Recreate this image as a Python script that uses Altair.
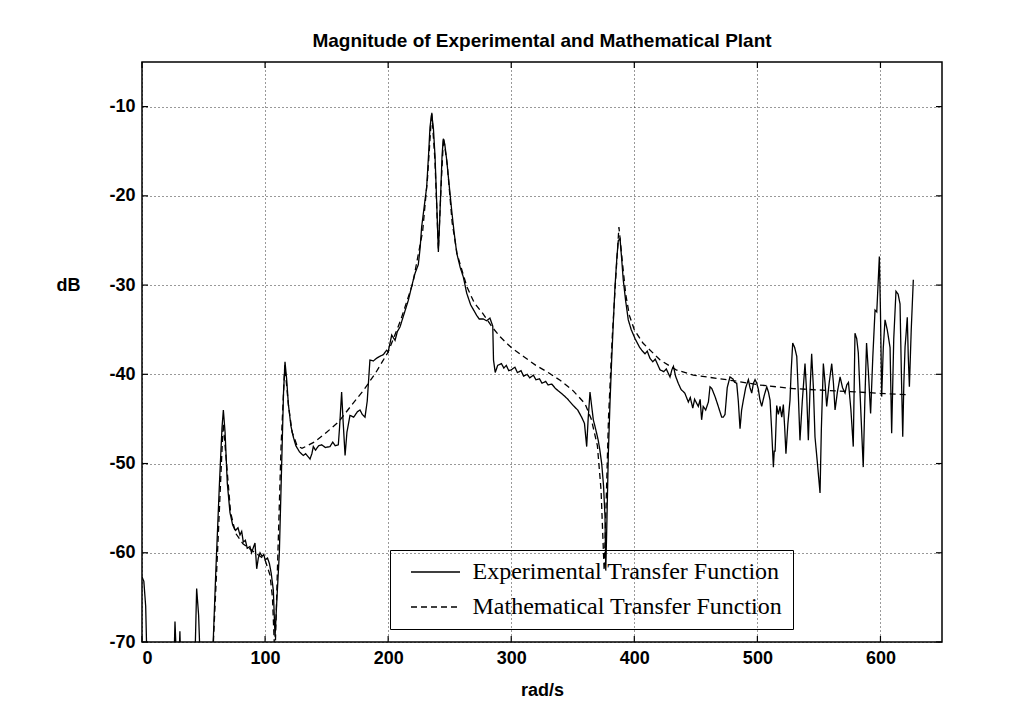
import altair as alt
import pandas as pd

# Experimental transfer function (rad/s, dB)
exp_points = [
    (0, -62.7), (1.5, -63.2), (3, -66), (4.5, -75),
    (25.5, -75), (26.8, -67.7), (28, -72), (30, -72), (30.8, -68.8), (32, -75),
    (42.5, -75), (44.4, -64.0), (46, -67), (48, -75),
    (56.5, -75), (60, -62), (63, -52), (65, -46), (66.1, -44.0), (67.5, -46.5),
    (69.3, -52.2), (71.5, -55.5), (73.7, -56.9), (76, -57.5), (78, -57.2),
    (79.6, -58.0), (81, -57.6), (82.3, -58.8), (84, -58.6), (85.5, -59.5),
    (87.7, -59.3), (89, -60), (90.5, -59.4), (91.8, -58.9), (93.2, -61.8),
    (94.5, -60.6), (95.9, -60.0), (97.5, -60.4), (99, -60.2), (100, -60.8),
    (102, -60.6), (103.5, -61.2), (105, -62.3), (106.7, -64.2), (108.1, -69.4),
    (109.5, -65.5), (111.6, -60.0), (113.5, -50), (115, -42), (116.2, -38.6),
    (117.5, -40.5), (118.9, -43.3), (121, -45.8), (122.9, -47.0), (125, -48),
    (128, -48.7), (131.1, -49.1), (133, -48.9), (136.5, -49.5), (138, -48.9),
    (139.2, -48.1), (141, -48.5), (143.5, -48.0), (146, -47.9), (149, -48.2),
    (152.7, -48.1), (155, -47.6), (157, -48.0), (159.5, -47.9), (160.5, -46),
    (162.2, -42.0), (163.3, -45), (165, -49.1), (166.5, -46.5), (169, -44.6),
    (172, -44.8), (175, -44.2), (177.1, -44.0), (179, -44.5), (181.2, -44.8),
    (183, -43), (185.2, -38.4), (188, -38.5), (190.6, -38.2), (193, -38.0),
    (196, -37.8), (198.8, -37.3), (200, -37.5), (202.9, -35.6), (205.6, -36.2),
    (207.5, -35.2), (209.6, -34.7), (213, -33.2), (216.4, -31.7), (219, -30.2),
    (221.8, -28.7), (224.5, -27.7), (226, -25.8), (227.2, -23.5), (229.3, -21.2),
    (231.3, -19.0), (233, -15), (234, -12.3), (235.4, -10.8), (236.8, -12.5),
    (238.1, -15.6), (239.5, -21), (240.8, -26.3), (241.8, -23), (242.7, -19.7),
    (243.8, -15.5), (244.8, -13.6), (246, -14.2), (247.6, -16.0), (249.5, -18.7),
    (251.6, -21.6), (253.5, -24), (255.7, -26.4), (258.5, -28), (261.1, -29.1),
    (263.8, -30.9), (267, -32.2), (271.9, -33.4), (274, -33.8), (277.3, -33.8),
    (280, -34.0), (282.7, -33.7), (285, -34.6), (285.6, -38.4), (287, -39.8),
    (289, -39.0), (292, -38.8), (294, -39.3), (296, -39.0), (298, -39.6),
    (300, -39.5), (303, -39.2), (305, -39.8), (308, -39.6), (310, -40.2),
    (313, -40.0), (315, -40.4), (318, -40.1), (320, -40.6), (323, -40.5),
    (325, -41.0), (328, -40.8), (330, -41.2), (333, -41.1), (336, -41.6),
    (339.6, -42.0), (343, -42.4), (346, -42.8), (350.4, -43.5), (354, -44.0),
    (357.2, -44.8), (359.5, -45.5), (361.3, -48.1), (362.5, -45), (364, -42.0),
    (365.3, -43.5), (366.7, -45.1), (368.7, -46.2), (370.7, -47.4), (372, -48.5),
    (373.5, -50.0), (375, -52.5), (376.2, -56), (376.8, -62), (377.5, -58),
    (378.9, -48.9), (380.3, -43), (381.6, -38.4), (383, -34), (384.3, -30.2),
    (385.8, -27), (387, -25.0), (388.4, -24.8), (389.7, -27), (391, -29.4),
    (393, -31.8), (395.1, -33.9), (397.5, -35), (400.6, -36.0), (404, -36.9),
    (406, -37.3), (408.7, -37.7), (410.5, -37.4), (412.7, -38.2), (415, -38.6),
    (417, -38.3), (420.9, -39.5), (424, -39.7), (426, -39.4), (429, -40.3),
    (430.5, -39.5), (431.8, -39.1), (433.5, -40.2), (435.7, -41.0), (438, -41.7),
    (441, -42.1), (443.9, -43.1), (445.5, -42.6), (447.5, -43.8), (449, -42.8),
    (452, -43.6), (453.5, -42.8), (454.7, -45.1), (456, -43.6), (458, -44),
    (460.2, -43.1), (461.5, -41.4), (463, -41.6), (465.6, -42.5), (468, -43.5),
    (471, -44.8), (472.3, -44.8), (473.7, -44.5), (475.5, -41.5), (477.7, -40.3),
    (480, -40.5), (481.5, -40.9), (483.2, -41.0), (484.5, -43), (485.9, -46.1),
    (487.2, -44), (488.6, -42.9), (490.5, -41.5), (492.7, -40.6), (494, -41.5),
    (495.4, -42.1), (496.8, -41), (498.1, -40.6), (499.5, -41), (500.8, -41.7),
    (502, -42.8), (503.5, -43.6), (505.5, -42.4), (507.6, -41.4), (509, -42),
    (510.3, -42.9), (511.5, -46), (513, -50.4), (513.7, -48.6), (514.4, -48.6),
    (515.7, -43.5), (517, -44.5), (518.4, -43.6), (519.8, -44.8), (521.1, -43.4),
    (522.2, -46), (523.2, -48.9), (524.8, -45.5), (526.5, -42.9), (527.5, -39.5),
    (528.7, -36.5), (530.3, -37), (532.0, -38.0), (533.2, -42), (534.6, -47.4),
    (536.5, -43), (538.7, -38.8), (540, -42), (541.4, -47.4), (542.7, -42),
    (544.1, -37.7), (545.5, -41.5), (546.8, -47.0), (548.8, -50), (550.9, -53.3),
    (552, -46), (553.6, -38.8), (555, -41), (556.3, -43.6), (558.3, -41),
    (560.4, -38.8), (561.8, -41), (563.1, -44.0), (565, -42), (567.2, -40.3),
    (569.2, -41.5), (571.2, -42.1), (572.6, -41.2), (574.0, -40.9), (576, -44),
    (577.9, -48.1), (579.3, -35.4), (580.7, -36), (582, -37.6), (584, -44),
    (586, -50.4), (587.3, -43), (588.7, -36.5), (590.3, -40), (592, -44.4),
    (593.8, -38), (595.6, -32.8), (597, -33), (599.1, -26.8), (600, -33),
    (601, -42.5), (602.3, -37), (603.7, -33.9), (605.5, -35), (607.8, -37),
    (609.1, -46.6), (610.8, -36), (612.6, -30.7), (614.3, -31), (615.9, -32.1),
    (617, -40), (618.1, -47.0), (619, -41), (620, -36.9), (620.8, -35.5),
    (621.8, -33.6), (622.6, -38), (623.5, -41.4), (625, -35), (626.7, -29.4),
]

# Mathematical transfer function (rad/s, dB)
math_x = [50, 58, 62, 64.5, 66, 67.5, 69.3, 72, 76, 82, 90, 100, 104, 106, 108,
          110, 113, 116, 119, 122, 126, 130, 140, 150, 160, 170, 180, 190, 200,
          210, 220, 228, 232, 235.4, 238, 240.8, 243, 245, 248, 252, 256, 264,
          270, 277, 285, 291, 300, 310, 320, 330, 340, 350, 360, 365, 370, 373,
          375.5, 377, 379, 382, 385, 387.5, 390, 393, 396, 400, 407, 421, 434,
          448, 475, 502, 529, 556, 583, 622]
math_y = [-80, -70, -58, -50, -45.5, -48, -51, -55.5, -57.8, -59, -59.8, -60.8,
          -62.5, -65, -72, -62, -48, -39, -43.5, -46.5, -48, -48.3, -47.6, -46.5,
          -45.3, -43.5, -41.8, -39.8, -37.5, -34, -29.8, -24, -18, -10.6, -16,
          -26, -19, -13.5, -16.5, -23, -26.5, -30.2, -32, -33.2, -34.8, -35.8,
          -37, -38, -39, -39.8, -40.7, -41.8, -43.3, -45, -48, -53, -62, -55,
          -45, -36, -29, -23.5, -27, -31, -33.4, -35, -36.5, -38.4, -39.5,
          -40.1, -40.6, -41.2, -41.6, -41.8, -42.0, -42.3]

series_names = ["Experimental Transfer Function", "Mathematical Transfer Function"]
x_ticks = [0, 100, 200, 300, 400, 500, 600]
y_ticks = [-70, -60, -50, -40, -30, -20, -10]

W, H = 800, 580

exp_df = pd.DataFrame({
    "w": [p[0] for p in exp_points],
    "db": [p[1] for p in exp_points],
    "series": series_names[0],
})
exp_df["idx"] = range(len(exp_df))
math_df = pd.DataFrame({"w": math_x, "db": math_y, "series": series_names[1]})
math_df["idx"] = range(len(math_df))
df = pd.concat([exp_df, math_df], ignore_index=True)

x_scale = alt.Scale(domain=[0, 650], nice=False, zero=False)
y_scale = alt.Scale(domain=[-70, -5], nice=False, zero=False)

x_axis = alt.Axis(values=x_ticks, title="rad/s", labelPadding=7,
                  labelExpr="datum.value",
                  titleY=48, titleBaseline="middle")
y_axis = alt.Axis(values=y_ticks, title="dB", labelPadding=7,
                  labelExpr="datum.value",
                  titleAngle=0, titleX=-74, titleY=223,
                  titleAlign="center", titleBaseline="middle")

lines = alt.Chart(df).mark_line(color="black", strokeWidth=1.3, clip=True).encode(
    x=alt.X("w:Q", scale=x_scale, axis=x_axis),
    y=alt.Y("db:Q", scale=y_scale, axis=y_axis),
    strokeDash=alt.StrokeDash(
        "series:N",
        scale=alt.Scale(domain=series_names, range=[[1, 0], [6, 4]]),
        legend=alt.Legend(
            title=None, orient="none", legendX=248, legendY=488,
            symbolType="M-2.45,0H2.45", symbolSize=400, symbolStrokeWidth=1.5,
            symbolStrokeColor="black", symbolOffset=23.5,
            labelFont="Liberation Serif", labelFontSize=24, labelColor="black",
            labelOffset=25, labelLimit=500, rowPadding=11, padding=10,
            strokeColor="black",
        ),
    ),
    order="idx:Q",
)

xt = pd.DataFrame({"w": x_ticks})
yt = pd.DataFrame({"db": y_ticks})

bottom_ticks = alt.Chart(xt).mark_rule(color="black", strokeWidth=1.2).encode(
    x=alt.X("w:Q", scale=x_scale, axis=x_axis), y=alt.value(H), y2=alt.value(H - 6))
top_ticks = alt.Chart(xt).mark_rule(color="black", strokeWidth=1.2).encode(
    x=alt.X("w:Q", scale=x_scale, axis=x_axis), y=alt.value(0), y2=alt.value(6))
left_ticks = alt.Chart(yt).mark_rule(color="black", strokeWidth=1.2).encode(
    y=alt.Y("db:Q", scale=y_scale, axis=y_axis), x=alt.value(0), x2=alt.value(6))
right_ticks = alt.Chart(yt).mark_rule(color="black", strokeWidth=1.2).encode(
    y=alt.Y("db:Q", scale=y_scale, axis=y_axis), x=alt.value(W), x2=alt.value(W - 6))

chart = alt.layer(lines, bottom_ticks, top_ticks, left_ticks, right_ticks).properties(
    width=W, height=H,
    title=alt.TitleParams(
        text="Magnitude of Experimental and Mathematical Plant",
        font="Liberation Sans", fontSize=19, fontWeight="bold",
        color="black", anchor="middle", offset=14, baseline="alphabetic",
        frame="group", dy=19,
    ),
    padding={"left": 134, "top": 54, "right": 80, "bottom": 60},
    autosize=alt.AutoSizeParams(type="none"),
).configure_view(
    stroke="black", strokeWidth=1.5
).configure_axis(
    grid=True, gridColor="black", gridDash=[1, 3], gridOpacity=0.8, gridWidth=1,
    domain=False, ticks=False, tickSize=0,
    labelFont="Liberation Sans", labelFontSize=18, labelFontWeight="bold",
    labelColor="black",
    titleFont="Liberation Sans", titleFontSize=18, titleFontWeight="bold",
    titleColor="black",
)

chart.save("out.html", embed_options={"renderer": "svg", "actions": False})
